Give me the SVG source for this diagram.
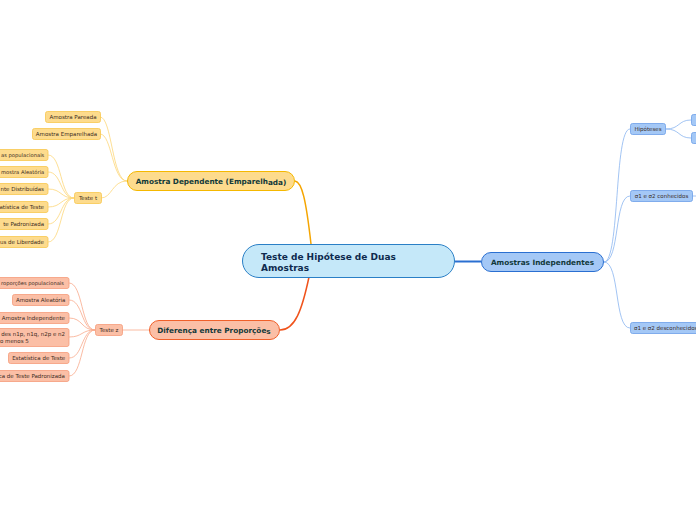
<svg xmlns="http://www.w3.org/2000/svg" width="696" height="520" viewBox="0 0 696 520">
<style>
text{font-family:"DejaVu Sans","Liberation Sans",sans-serif}
.leaf{font-size:5.5px;fill:#3b2c1e}
.sm{font-size:5.2px}
.c{fill:none}
.y{stroke:#fcd77a;stroke-width:0.8}
.r{stroke:#f9aa8c;stroke-width:0.8}
.b{stroke:#8ab5f0;stroke-width:0.8}
.yn{fill:#fddb8d;stroke:#f7c64e;stroke-width:0.8}
.rn{fill:#fbbfa6;stroke:#f59a7a;stroke-width:0.8}
.bn{fill:#a4c8f6;stroke:#6b9ee8;stroke-width:0.8}
.mid{font-size:7.3px;font-weight:bold;fill:#12393a;text-anchor:middle}
</style>
<rect width="696" height="520" fill="#ffffff"/>
<g id="connectors">
<path class="c" d="M311,244 C306,200 302,182 295,181" stroke="#f5a500" stroke-width="1.5"/>
<path class="c" d="M309,277 C302,310 295,330 280,330" stroke="#f0531c" stroke-width="1.5"/>
<path class="c" d="M455,261.5 L481,261.5" stroke="#2a6fd1" stroke-width="2"/>
<path class="c y" d="M127,181 C112,181 112,117 100,117"/>
<path class="c y" d="M127,181 C112,181 112,134 100,134"/>
<path class="c y" d="M127,181 C112,181 112,198 101,198"/>
<path class="c y" d="M74,198 C60,198 62,155 48,155"/>
<path class="c y" d="M74,198 C60,198 62,172 48,172"/>
<path class="c y" d="M74,198 C60,198 62,189 48,189"/>
<path class="c y" d="M74,198 C60,198 62,207 48,207"/>
<path class="c y" d="M74,198 C60,198 62,224 48,224"/>
<path class="c y" d="M74,198 C60,198 62,242 48,242"/>
<path class="c r" d="M149,330 L122,330"/>
<path class="c r" d="M95,330 C81,330 83,283 69,283"/>
<path class="c r" d="M95,330 C81,330 83,300 69,300"/>
<path class="c r" d="M95,330 C81,330 83,318 69,318"/>
<path class="c r" d="M95,330 C81,330 83,337 69,337"/>
<path class="c r" d="M95,330 C81,330 83,358 69,358"/>
<path class="c r" d="M95,330 C81,330 83,376 69,376"/>
<path class="c b" d="M604,262 C620,262 614,129 630,129"/>
<path class="c b" d="M604,262 C620,262 614,196 630,196"/>
<path class="c b" d="M604,262 C620,262 614,328 630,328"/>
<path class="c b" d="M666,129 C680,129 678,120 691,120"/>
<path class="c b" d="M666,129 C680,129 678,138 691,138"/>
<path class="c b" d="M692,196 L696,196"/>
</g>
<g id="central">
<rect x="242.5" y="244.5" width="212" height="33" rx="16.5" fill="#c5e8f9" stroke="#2a7fc6" stroke-width="1"/>
<text x="261" y="259.5" font-size="9" font-weight="bold" fill="#0e2a4e">Teste de Hipótese de Duas</text>
<text x="261" y="270.5" font-size="9" font-weight="bold" fill="#0e2a4e">Amostras</text>
</g>
<g id="amostra-dependente">
<rect x="127.5" y="171.5" width="167" height="19" rx="9.5" fill="#fddb8d" stroke="#f5b800" stroke-width="1"/>
<text x="211" y="183.5" class="mid">Amostra Dependente (Emparelh<tspan dy="1.5">ada)</tspan></text>
</g>
<g id="diferenca-proporcoes">
<rect x="149.5" y="320.5" width="130" height="19" rx="9.5" fill="#fbbfa6" stroke="#f0602a" stroke-width="1"/>
<text x="214" y="332.5" class="mid">Diferença entre Proporçõe<tspan dy="1.5">s</tspan></text>
</g>
<g id="amostras-independentes">
<rect x="481.5" y="252.5" width="122" height="19" rx="9.5" fill="#a4c8f6" stroke="#2a6fd1" stroke-width="1"/>
<text x="542.5" y="264.5" class="mid">Amostras Independentes</text>
</g>
<g id="amostra-pareada">
<rect x="45.5" y="111.5" width="55" height="11" rx="2" class="yn"/>
<text x="73" y="119" class="leaf" text-anchor="middle">Amostra Pareada</text>
</g>
<g id="amostra-emparelhada">
<rect x="32.5" y="128.5" width="68" height="11" rx="2" class="yn"/>
<text x="66.5" y="136" class="leaf" text-anchor="middle">Amostra Emparelhada</text>
</g>
<g id="teste-t">
<rect x="74.5" y="192.5" width="27" height="11" rx="2" class="yn"/>
<text x="88" y="200" class="leaf" text-anchor="middle">Teste t</text>
</g>
<g id="t1"><rect x="-10" y="149.5" width="58" height="11" rx="2" class="yn"/><text x="1" y="157" class="leaf sm">as populacionais</text></g>
<g id="t2"><rect x="-10" y="166.5" width="58" height="11" rx="2" class="yn"/><text x="1" y="174" class="leaf sm">mostra Aleatória</text></g>
<g id="t3"><rect x="-10" y="183.5" width="58" height="11" rx="2" class="yn"/><text x="44" y="191" class="leaf" text-anchor="end">nte Distribuídas</text></g>
<g id="t4"><rect x="-10" y="201.5" width="58" height="11" rx="2" class="yn"/><text x="44" y="209" class="leaf" text-anchor="end">atística de Teste</text></g>
<g id="t5"><rect x="-10" y="218.5" width="58" height="11" rx="2" class="yn"/><text x="44" y="226" class="leaf" text-anchor="end">te Padronizada</text></g>
<g id="t6"><rect x="-10" y="236.5" width="58" height="11" rx="2" class="yn"/><text x="44" y="244" class="leaf" text-anchor="end">us de Liberdade</text></g>
<g id="teste-z">
<rect x="95.5" y="324.5" width="27" height="11" rx="2" class="rn"/>
<text x="109" y="332" class="leaf" text-anchor="middle">Teste z</text>
</g>
<g id="z1"><rect x="-10" y="277.5" width="79" height="11" rx="2" class="rn"/><text x="1" y="285" class="leaf sm">roporções populacionais</text></g>
<g id="z2"><rect x="12.5" y="294.5" width="56.5" height="11" rx="2" class="rn"/><text x="40.7" y="302" class="leaf" text-anchor="middle">Amostra Aleatória</text></g>
<g id="z3"><rect x="-10" y="312.5" width="79" height="11" rx="2" class="rn"/><text x="65" y="320" class="leaf" text-anchor="end">Amostra Independente</text></g>
<g id="z4"><rect x="-10" y="328.5" width="79" height="18" rx="2" class="rn"/><text x="65" y="336" class="leaf" text-anchor="end">des n1p, n1q, n2p e n2</text><text x="0" y="343" class="leaf">o menos 5</text></g>
<g id="z5"><rect x="8.5" y="352.5" width="60.5" height="11" rx="2" class="rn"/><text x="38.7" y="360" class="leaf" text-anchor="middle">Estatística de Teste</text></g>
<g id="z6"><rect x="-10" y="370.5" width="79" height="11" rx="2" class="rn"/><text x="65" y="378" class="leaf" text-anchor="end">ca de Teste Padronizada</text></g>
<g id="hipoteses">
<rect x="630.5" y="123.5" width="35" height="11" rx="2" class="bn"/>
<text x="648" y="131" class="leaf" text-anchor="middle">Hipóteses</text>
</g>
<g id="h1"><rect x="691.5" y="114.5" width="20" height="11" rx="2" class="bn"/></g>
<g id="h2"><rect x="691.5" y="132.5" width="20" height="11" rx="2" class="bn"/></g>
<g id="sigma-conhecidos">
<rect x="630.5" y="190.5" width="62" height="11" rx="2" class="bn"/>
<text x="661.5" y="198" class="leaf" text-anchor="middle">σ1 e σ2 conhecidos</text>
</g>
<g id="sigma-desconhecidos">
<rect x="630.5" y="322.5" width="75" height="11" rx="2" class="bn"/>
<text x="634" y="330" class="leaf">σ1 e σ2 desconhecidos</text>
</g>
</svg>
